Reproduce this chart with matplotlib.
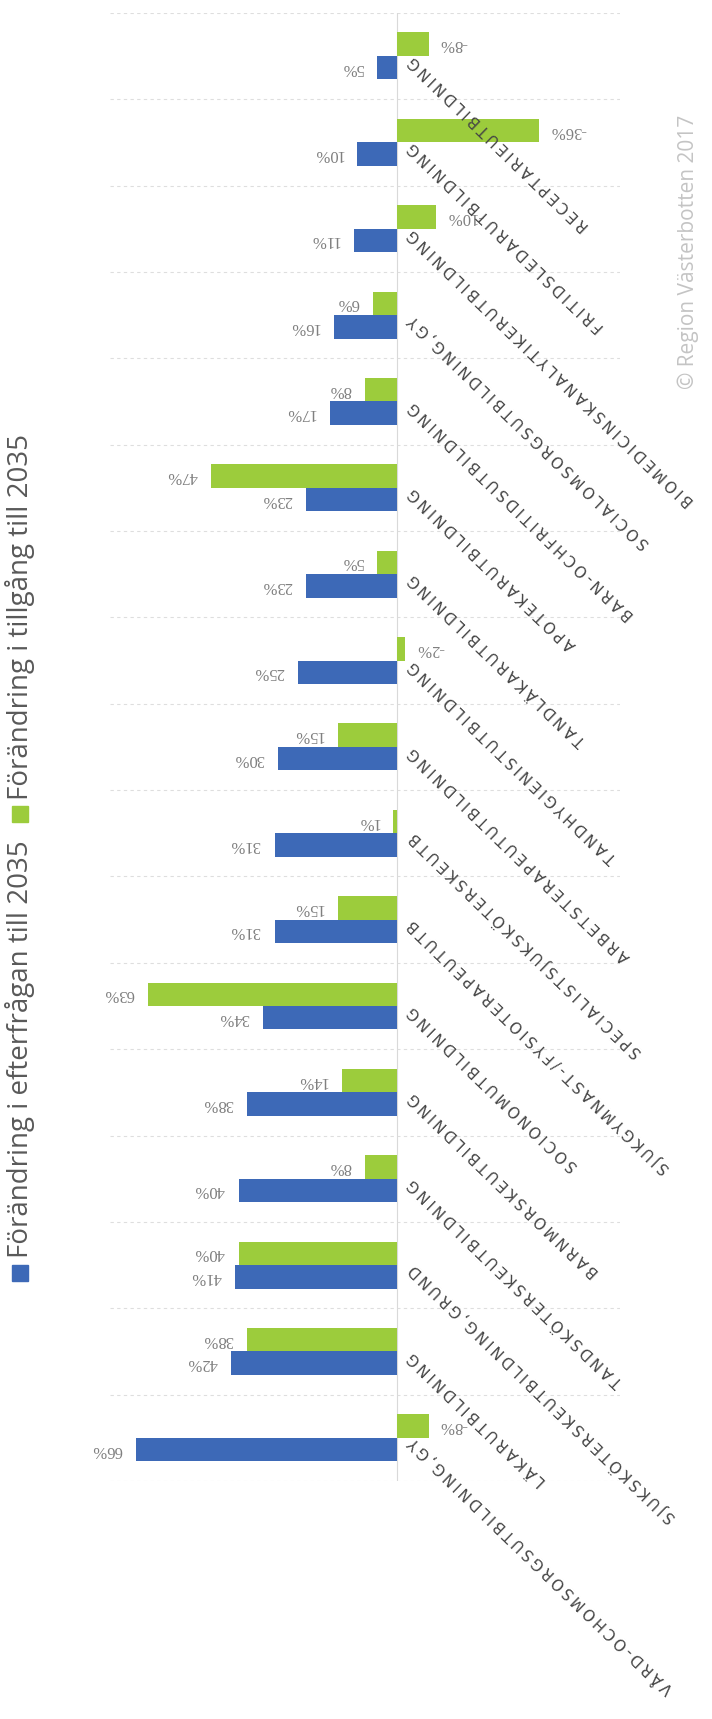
import matplotlib.pyplot as plt
import numpy as np

# utbildningar, nedifrån och upp
kategorier = [
    "VÅRD-OCHOMSORGSUTBILDNING,GY",
    "LÄKARUTBILDNING",
    "SJUKSKÖTERSKEUTBILDNING,GRUND",
    "TANDSKÖTERSKEUTBILDNING",
    "BARNMORSKEUTBILDNING",
    "SOCIONOMUTBILDNING",
    "SJUKGYMNAST-/FYSIOTERAPEUTUTB",
    "SPECIALISTSJUKSKÖTERSKEUTB",
    "ARBETSTERAPEUTUTBILDNING",
    "TANDHYGIENISTUTBILDNING",
    "TANDLÄKARUTBILDNING",
    "APOTEKARUTBILDNING",
    "BARN-OCHFRITIDSUTBILDNING",
    "SOCIALOMSORGSUTBILDNING,GY",
    "BIOMEDICINSKANALYTIKERUTBILDNING",
    "FRITIDSLEDARUTBILDNING",
    "RECEPTARIEUTBILDNING",
]
efterfragan = [66, 42, 41, 40, 38, 34, 31, 31, 30, 25, 23, 23, 17, 16, 11, 10, 5]
tillgang = [-8, 38, 40, 8, 14, 63, 15, 1, 15, -2, 5, 47, 8, 6, -10, -36, -8]

serie_namn = ["Förändring i efterfrågan till 2035", "Förändring i tillgång till 2035"]
blue = "#3d69b7"
green = "#9ccc3c"

W, H = 712, 1719
fig = plt.figure(figsize=(W / 100, H / 100), dpi=100)


def rect(x0, y0, x1, y1):
    # pixel box (top-left origin) -> figure fraction
    return [x0 / W, 1 - y1 / H, (x1 - x0) / W, (y1 - y0) / H]


ax = fig.add_axes(rect(110, 12.8, 620, 1481))
y = np.arange(len(kategorier))
bh = 0.272

ax.barh(y - bh / 2, efterfragan, height=bh, color=blue)
ax.barh(y + bh / 2, tillgang, height=bh, color=green)

ax.set_xlim(72.66, -56.46)
ax.set_ylim(-0.5, len(kategorier) - 0.5)
ax.axis("off")

# svaga streckade linjer mellan kategorierna
for g in np.arange(-0.5, len(kategorier), 1.0):
    ax.axhline(g, color="#dedede", lw=0.8, ls=(0, (3, 3)), zorder=0)
ax.axvline(0, color="#d9d9d9", lw=0.8, zorder=0)

# värdeetiketter
for vals, off in [(efterfragan, -bh / 2), (tillgang, bh / 2)]:
    for yi, v in zip(y, vals):
        if v >= 0:
            dx, ha = -10, "right"
        else:
            dx, ha = 8, "left"
        ax.annotate(f"{v}%", xy=(v, yi + off), xytext=(dx, 0), textcoords="offset points",
                    ha=ha, va="center", rotation=180, fontsize=12,
                    family="Liberation Serif", color="#7f7f7f", annotation_clip=False)

# kategorietiketter, snett med glesa bokstäver (ca 13 px per tecken)
sep = "\u2009"
probe = fig.text(0, 0, sep.join(kategorier[0]), fontsize=10, family="DejaVu Sans")
w10 = probe.get_window_extent(fig.canvas.get_renderer()).width
probe.remove()
n = len(kategorier[0])
lab_fs = 10 * (13.0 * (n - 1) + 10) / w10

for yi, namn in zip(y, kategorier):
    ax.annotate(sep.join(namn), xy=(0, yi), xytext=(10, -1.8), textcoords="offset points",
                ha="right", va="center", rotation=136, rotation_mode="anchor",
                fontsize=lab_fs, family="DejaVu Sans", color="#454545",
                annotation_clip=False)

# förklaring
fig.patches.append(plt.Rectangle((12 / W, 1 - 1281 / H), 16 / W, 16 / H,
                                 transform=fig.transFigure, color=blue))
fig.text(20 / W, 1 - 1258 / H, serie_namn[0], rotation=90, ha="center", va="bottom",
         fontsize=20, family="Open Sans", color="#595959")
fig.patches.append(plt.Rectangle((12 / W, 1 - 822 / H), 16 / W, 16 / H,
                                 transform=fig.transFigure, color=green))
fig.text(20 / W, 1 - 800 / H, serie_namn[1], rotation=90, ha="center", va="bottom",
         fontsize=20, family="Open Sans", color="#595959")

fig.text(688 / W, 1 - 389 / H, "© Region Västerbotten 2017", rotation=90,
         ha="center", va="bottom", fontsize=15, family="Open Sans", color="#c4c4c4")

fig.savefig("out.png", dpi=100)
